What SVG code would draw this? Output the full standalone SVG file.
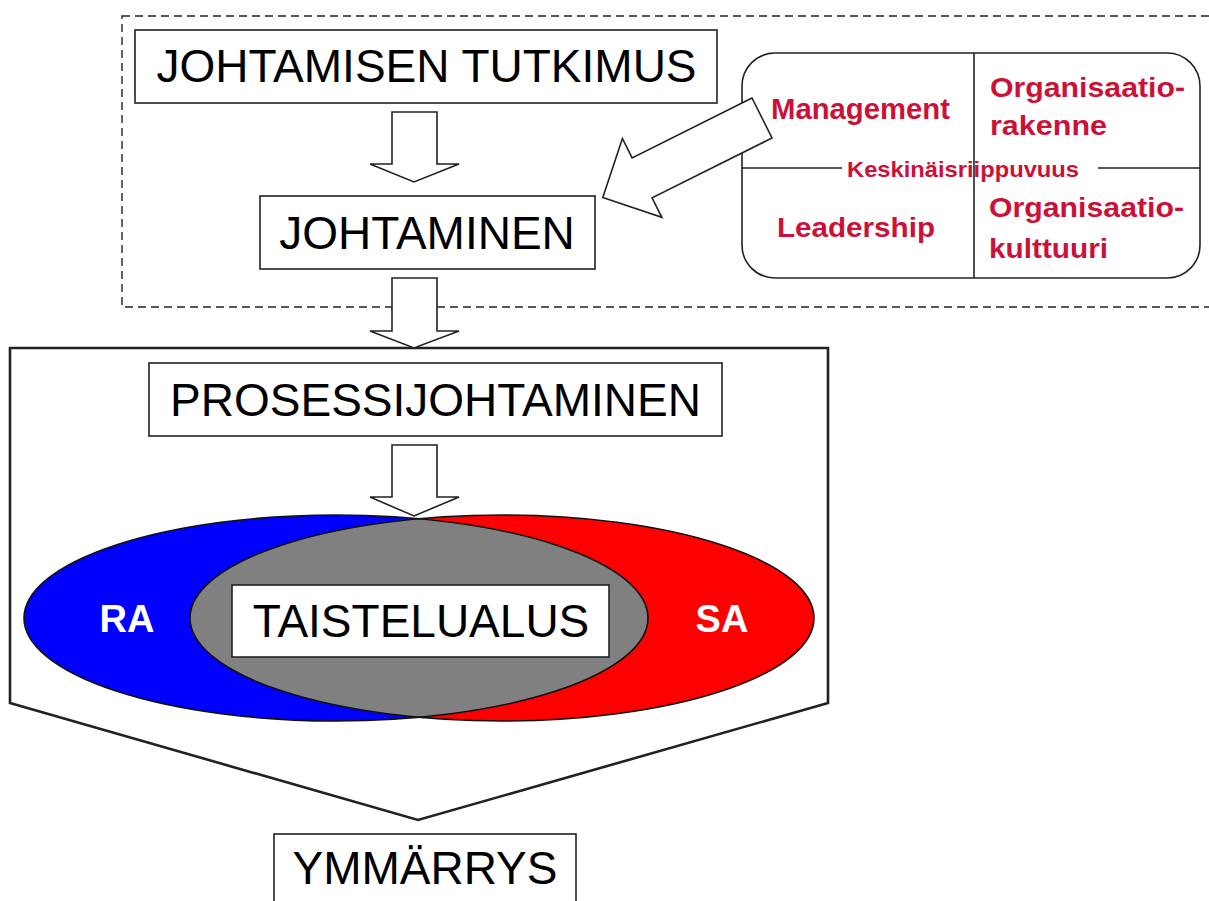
<svg xmlns="http://www.w3.org/2000/svg" width="1209" height="901" viewBox="0 0 1209 901">
<style>
.box{fill:#fff;stroke:#222;stroke-width:1.6}
.arr{fill:#fff;stroke:#222;stroke-width:1.6;stroke-linejoin:miter}
.big{font-family:"Liberation Sans",Arial,sans-serif;font-size:46px;fill:#000;text-anchor:middle}
.red{font-family:"Liberation Sans",Arial,sans-serif;font-weight:bold;fill:#CC1138}
.wht{font-family:"Liberation Sans",Arial,sans-serif;font-weight:bold;fill:#fff;font-size:38px}
</style>
<defs>
<clipPath id="blueclip"><ellipse cx="336" cy="618" rx="312" ry="103"/></clipPath>
</defs>
<rect width="1209" height="901" fill="#fff"/>
<g id="research-frame">
<rect x="122" y="16" width="1095" height="291" fill="none" stroke="#222" stroke-width="1.4" stroke-dasharray="8,5"/>
</g>
<g id="process-frame">
<polygon points="10,348 828,348 828,703 418,820 10,703" fill="#fff" stroke="#222" stroke-width="2.6"/>
</g>
<g id="venn">
<ellipse cx="336" cy="618" rx="312" ry="103" fill="#0000FF"/>
<ellipse cx="502" cy="618" rx="312" ry="103" fill="#FF0000"/>
<ellipse cx="502" cy="618" rx="312" ry="103" fill="#808080" clip-path="url(#blueclip)"/>
<ellipse cx="336" cy="618" rx="312" ry="103" fill="none" stroke="#111" stroke-width="1.6"/>
<ellipse cx="502" cy="618" rx="312" ry="103" fill="none" stroke="#111" stroke-width="1.6"/>
<text class="wht" x="127" y="632" text-anchor="middle">RA</text>
<text class="wht" x="722" y="632" text-anchor="middle">SA</text>
</g>
<g id="connectors">
<polygon class="arr" points="392,112 437,112 437,164 459,164 414,182 370,164 392,164"/>
<polygon class="arr" points="392,278 437,278 437,331 459,331 414,348 370,331 392,331"/>
<polygon class="arr" points="392,445 437,445 437,497 459,497 414,516 370,497 392,497"/>
</g>
<g id="johtamisen-tutkimus">
<rect class="box" x="135" y="30" width="582" height="73"/>
<text class="big" x="426.5" y="82">JOHTAMISEN TUTKIMUS</text>
</g>
<g id="johtaminen">
<rect class="box" x="260" y="196" width="335" height="73"/>
<text class="big" x="427" y="249">JOHTAMINEN</text>
</g>
<g id="prosessijohtaminen">
<rect class="box" x="149" y="363" width="573" height="73"/>
<text class="big" x="435.5" y="416">PROSESSIJOHTAMINEN</text>
</g>
<g id="taistelualus">
<rect class="box" x="232" y="585" width="377" height="72"/>
<text class="big" x="421" y="637">TAISTELUALUS</text>
</g>
<g id="ymmarrys">
<rect class="box" x="274" y="834" width="302" height="80"/>
<text class="big" x="425" y="884">YMMÄRRYS</text>
</g>
<g id="management-matrix">
<rect x="742" y="53" width="458" height="225" rx="33" ry="33" fill="#fff" stroke="#222" stroke-width="1.6"/>
<line x1="974" y1="53" x2="974" y2="278" stroke="#222" stroke-width="1.6"/>
<line x1="742" y1="168" x2="842" y2="168" stroke="#222" stroke-width="1.6"/>
<line x1="1098" y1="168" x2="1200" y2="168" stroke="#222" stroke-width="1.6"/>
<text class="red" x="771" y="119" font-size="29" textLength="179" lengthAdjust="spacingAndGlyphs">Management</text>
<text class="red" x="990" y="97" font-size="28" textLength="195" lengthAdjust="spacingAndGlyphs">Organisaatio-</text>
<text class="red" x="990" y="135" font-size="28" textLength="117" lengthAdjust="spacingAndGlyphs">rakenne</text>
<text class="red" x="777" y="237" font-size="28" textLength="158" lengthAdjust="spacingAndGlyphs">Leadership</text>
<text class="red" x="989" y="217" font-size="28" textLength="195" lengthAdjust="spacingAndGlyphs">Organisaatio-</text>
<text class="red" x="989" y="258" font-size="28" textLength="119" lengthAdjust="spacingAndGlyphs">kulttuuri</text>
<text class="red" x="847" y="177" font-size="22" textLength="232" lengthAdjust="spacingAndGlyphs">Keskinäisriippuvuus</text>
</g>
<g id="matrix-arrow">
<polygon class="arr" points="752,98 632.1,157.9 622.4,138.5 602.8,197.6 661.8,217.3 652.1,197.9 772,138"/>
</g>
</svg>
